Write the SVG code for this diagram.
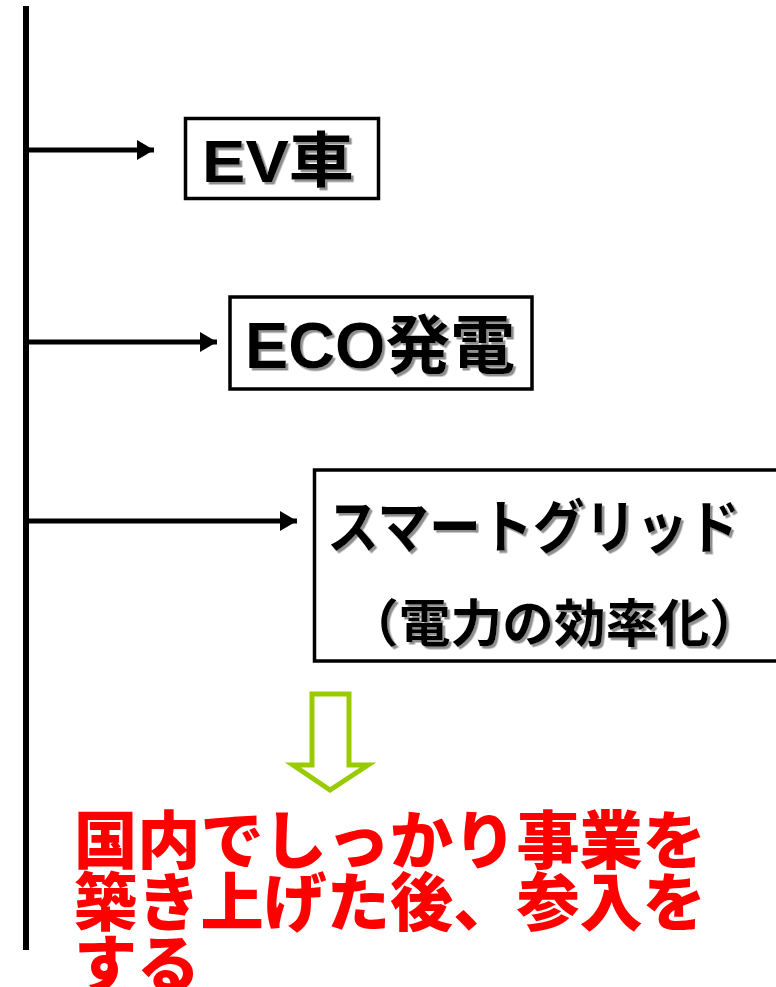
<svg xmlns="http://www.w3.org/2000/svg" width="776" height="987" viewBox="0 0 776 987">
<style>
.box{fill:#fff;stroke:#000;stroke-width:3.5}
.lbl{font-family:"Liberation Sans","Noto Sans CJK JP",sans-serif;font-weight:bold;fill:#000;filter:url(#sh)}
.red{font-family:"Noto Sans CJK JP",sans-serif;font-weight:900;fill:#ff0000;font-size:63px}
.conn{stroke:#000;stroke-width:5;fill:none}
</style>
<defs>
<filter id="sh" x="-10%" y="-10%" width="130%" height="130%">
<feDropShadow dx="2.5" dy="2.5" stdDeviation="0.7" flood-color="#8f8f8f" flood-opacity="1"/>
</filter>
<marker id="ah" markerUnits="userSpaceOnUse" markerWidth="18" markerHeight="20" refX="17" refY="10" orient="auto">
<path d="M0,0 L17,10 L0,20 Z" fill="#000"/>
</marker>
</defs>
<rect width="776" height="987" fill="#fff"/>
<g id="connectors">
<line x1="26" y1="6" x2="26" y2="950" stroke="#000" stroke-width="6"/>
<line class="conn" x1="29" y1="150" x2="154" y2="150" marker-end="url(#ah)"/>
<line class="conn" x1="29" y1="342" x2="217" y2="342" marker-end="url(#ah)"/>
<line class="conn" x1="29" y1="521" x2="297" y2="521" marker-end="url(#ah)"/>
<path d="M312,694 L349,694 L349,765 L368,765 L330,790 L293,765 L312,765 Z" fill="#fff" stroke="#99cc00" stroke-width="5" stroke-linejoin="miter"/>
</g>
<g id="ev">
<rect class="box" x="185.5" y="118.5" width="193" height="80"/>
<text class="lbl" x="202" y="182" font-size="60" textLength="152" lengthAdjust="spacingAndGlyphs">EV車</text>
</g>
<g id="eco">
<rect class="box" x="230" y="297" width="302" height="92"/>
<text class="lbl" x="245" y="368" font-size="64" textLength="270" lengthAdjust="spacingAndGlyphs">ECO発電</text>
</g>
<g id="smartgrid">
<rect class="box" x="314.5" y="470" width="470" height="191"/>
<text class="lbl" x="327" y="548" font-size="58" textLength="413" lengthAdjust="spacingAndGlyphs">スマートグリッド</text>
<text class="lbl" x="347" y="642" font-size="51" textLength="414" lengthAdjust="spacingAndGlyphs">（電力の効率化）</text>
</g>
<g id="conclusion">
<text class="red" x="74" y="863" textLength="632" lengthAdjust="spacingAndGlyphs">国内でしっかり事業を</text>
<text class="red" x="74" y="925" textLength="632" lengthAdjust="spacingAndGlyphs">築き上げた後、参入を</text>
<text class="red" x="74" y="987" textLength="126" lengthAdjust="spacingAndGlyphs">する</text>
</g>
</svg>
